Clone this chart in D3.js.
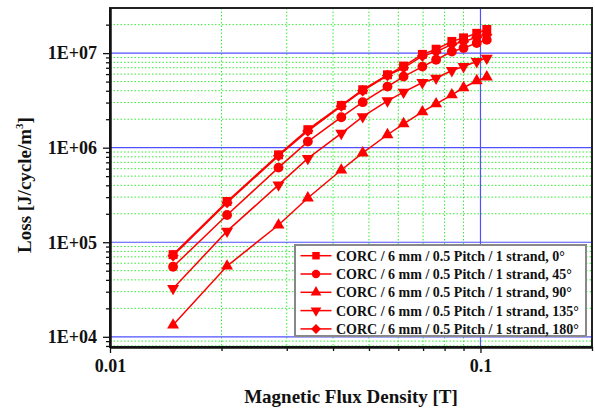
<!DOCTYPE html>
<html>
<head>
<meta charset="utf-8">
<script src="https://cdn.jsdelivr.net/npm/d3@7"></script>
<style>
  body { margin: 0; background: #fff; }
  svg { display: block; font-family: "Liberation Serif", "Times New Roman", serif; font-weight: bold; }
</style>
</head>
<body>
<div id="chart"></div>
<script>
// Data
const fluxDensity = [0.0148, 0.0207, 0.0285, 0.0342, 0.0421, 0.0481, 0.0561, 0.062, 0.0697, 0.0759, 0.0837, 0.09, 0.0977, 0.104];
const loss0   = [7.4e4, 2.7e5, 8.4e5, 1.55e6, 2.8e6, 4.1e6, 5.9e6, 7.3e6, 9.7e6, 1.1e7, 1.33e7, 1.45e7, 1.62e7, 1.78e7];
const loss45  = [5.5e4, 1.94e5, 6.15e5, 1.16e6, 2.1e6, 3.03e6, 4.43e6, 5.65e6, 7.2e6, 8.5e6, 1.04e7, 1.13e7, 1.28e7, 1.38e7];
const loss90  = [1.33e4, 5.6e4, 1.52e5, 2.94e5, 5.8e5, 8.8e5, 1.37e6, 1.79e6, 2.39e6, 2.91e6, 3.62e6, 4.3e6, 5.1e6, 5.6e6];
const loss135 = [3.25e4, 1.31e5, 4.04e5, 7.7e5, 1.42e6, 2.13e6, 3.13e6, 3.87e6, 4.89e6, 5.43e6, 6.55e6, 7.21e6, 8.15e6, 8.85e6];
const loss180 = [7.2e4, 2.62e5, 8.2e5, 1.5e6, 2.75e6, 4.0e6, 5.8e6, 7.0e6, 9.3e6, 1.03e7, 1.24e7, 1.32e7, 1.47e7, 1.56e7];

const seriesLabels = [
  "CORC / 6 mm / 0.5 Pitch / 1 strand, 0\u00b0",
  "CORC / 6 mm / 0.5 Pitch / 1 strand, 45\u00b0",
  "CORC / 6 mm / 0.5 Pitch / 1 strand, 90\u00b0",
  "CORC / 6 mm / 0.5 Pitch / 1 strand, 135\u00b0",
  "CORC / 6 mm / 0.5 Pitch / 1 strand, 180\u00b0"
];
const seriesValues = [loss0, loss45, loss90, loss135, loss180];

const xMajorTicks = [0.01, 0.1];
const xTickLabels = ["0.01", "0.1"];
const yMajorTicks = [1e4, 1e5, 1e6, 1e7];
const yTickLabels = ["1E+04", "1E+05", "1E+06", "1E+07"];

const width = 595, height = 410;
const plotLeft = 110, plotRight = 592, plotTop = 8, plotBottom = 347;
const red = "#ff0000";

const x = d3.scaleLog().domain([0.01, 0.2]).range([plotLeft, plotRight]);
const y = d3.scaleLog().domain([7.8e3, 3e7]).range([plotBottom, plotTop]);

// minor tick positions (2..9 in each decade, inside the visible range)
function minors(lo, hi) {
  const out = [];
  for (let e = -5; e <= 9; e++) {
    for (let m = 2; m <= 9; m++) {
      const v = m * Math.pow(10, e);
      if (v > lo * 1.0001 && v < hi * 0.9999) out.push(v);
    }
  }
  return out;
}
const xMinor = minors(0.01, 0.2);
const yMinor = minors(7.8e3, 3e7);

const svg = d3.select("#chart").append("svg")
  .attr("width", width)
  .attr("height", height);

// minor grid (green dotted)
svg.append("g").selectAll("line")
  .data(xMinor).enter().append("line")
  .attr("x1", d => x(d)).attr("x2", d => x(d))
  .attr("y1", plotTop).attr("y2", plotBottom)
  .attr("stroke", "#33ee33").attr("stroke-width", 1).attr("stroke-dasharray", "1.5,2");
svg.append("g").selectAll("line")
  .data(yMinor).enter().append("line")
  .attr("x1", plotLeft).attr("x2", plotRight)
  .attr("y1", d => y(d)).attr("y2", d => y(d))
  .attr("stroke", "#33ee33").attr("stroke-width", 1).attr("stroke-dasharray", "1.5,2");

// major grid (blue)
svg.append("g").selectAll("line")
  .data(xMajorTicks.filter(d => d > 0.01)).enter().append("line")
  .attr("x1", d => x(d)).attr("x2", d => x(d))
  .attr("y1", plotTop).attr("y2", plotBottom)
  .attr("stroke", "#5050ff").attr("stroke-width", 1.2);
svg.append("g").selectAll("line")
  .data(yMajorTicks).enter().append("line")
  .attr("x1", plotLeft).attr("x2", plotRight)
  .attr("y1", d => y(d)).attr("y2", d => y(d))
  .attr("stroke", "#5050ff").attr("stroke-width", 1.2);

// symbols
const symbols = [
  d3.symbol().type(d3.symbolSquare).size(80),
  d3.symbol().type(d3.symbolCircle).size(76),
  d3.symbol().type(d3.symbolTriangle).size(62),
  d3.symbol().type(d3.symbolTriangle).size(62),
  d3.symbol().type(d3.symbolSquare).size(64)
];
const rotations = [0, 0, 0, 180, 45];

const line = d3.line().x(d => x(d[0])).y(d => y(d[1]));

seriesValues.forEach((vals, i) => {
  const pts = fluxDensity.map((b, j) => [b, vals[j]]);
  const g = svg.append("g");
  g.append("path")
    .attr("d", line(pts))
    .attr("fill", "none")
    .attr("stroke", red)
    .attr("stroke-width", 1.5);
  g.selectAll("path.m")
    .data(pts).enter().append("path")
    .attr("class", "m")
    .attr("d", symbols[i])
    .attr("transform", d => `translate(${x(d[0])},${y(d[1])}) rotate(${rotations[i]})`)
    .attr("fill", red);
});

// frame
svg.append("rect")
  .attr("x", plotLeft).attr("y", plotTop)
  .attr("width", plotRight - plotLeft).attr("height", plotBottom - plotTop)
  .attr("fill", "none").attr("stroke", "#222").attr("stroke-width", 2);

// axes
const yAxisMajor = d3.axisLeft(y).tickValues(yMajorTicks).tickSize(7).tickPadding(6)
  .tickFormat((d, i) => yTickLabels[i]).tickSizeOuter(0);
const yAxisMinor = d3.axisLeft(y).tickValues(yMinor).tickSize(4).tickFormat("").tickSizeOuter(0);
const xAxisMajor = d3.axisBottom(x).tickValues(xMajorTicks).tickSize(6).tickPadding(6)
  .tickFormat((d, i) => xTickLabels[i]).tickSizeOuter(0);
const xAxisMinor = d3.axisBottom(x).tickValues(xMinor.concat([0.2])).tickSize(4).tickFormat("").tickSizeOuter(0);

[yAxisMinor, yAxisMajor].forEach(ax => {
  const g = svg.append("g").attr("transform", `translate(${plotLeft},0)`).call(ax);
  g.select(".domain").attr("stroke", "#111").attr("stroke-width", 2);
  g.selectAll(".tick line").attr("stroke", "#111").attr("stroke-width", 1.3);
  g.selectAll("text").attr("font-size", 18).attr("font-family", "Liberation Serif")
    .attr("font-weight", "bold").attr("fill", "#111");
});
[xAxisMinor, xAxisMajor].forEach(ax => {
  const g = svg.append("g").attr("transform", `translate(0,${plotBottom})`).call(ax);
  g.select(".domain").attr("stroke", "#111").attr("stroke-width", 2);
  g.selectAll(".tick line").attr("stroke", "#111").attr("stroke-width", 1.3);
  g.selectAll("text").attr("font-size", 18).attr("font-family", "Liberation Serif")
    .attr("font-weight", "bold").attr("fill", "#111");
});

// axis titles
svg.append("text")
  .attr("x", 351)
  .attr("y", 403)
  .attr("text-anchor", "middle")
  .attr("font-size", 19)
  .attr("fill", "#111")
  .text("Magnetic Flux Density [T]");

const yTitle = svg.append("text")
  .attr("transform", "translate(31,185) rotate(-90)")
  .attr("text-anchor", "middle")
  .attr("font-size", 19)
  .attr("fill", "#111");
yTitle.append("tspan").text("Loss [J/cycle/m");
yTitle.append("tspan").attr("font-size", 11).attr("dy", -8).text("3");
yTitle.append("tspan").attr("dy", 8).text("]");

// legend
const legend = svg.append("g");
legend.append("rect")
  .attr("x", 295).attr("y", 245)
  .attr("width", 291).attr("height", 91)
  .attr("fill", "#fff").attr("stroke", "#888").attr("stroke-width", 2);

const legendSymbols = [
  d3.symbol().type(d3.symbolSquare).size(56),
  d3.symbol().type(d3.symbolCircle).size(56),
  d3.symbol().type(d3.symbolTriangle).size(50),
  d3.symbol().type(d3.symbolTriangle).size(50),
  d3.symbol().type(d3.symbolSquare).size(50)
];

const rows = legend.selectAll("g.row")
  .data(seriesLabels).enter().append("g")
  .attr("transform", (d, i) => `translate(0,${255.7 + i * 18.3})`);
rows.append("line")
  .attr("x1", 300.5).attr("x2", 331.5)
  .attr("y1", 0).attr("y2", 0)
  .attr("stroke", red).attr("stroke-width", 1.5);
rows.append("path")
  .attr("d", (d, i) => legendSymbols[i]())
  .attr("transform", (d, i) => `translate(316,0) rotate(${rotations[i]})`)
  .attr("fill", red);
rows.append("text")
  .attr("x", 336)
  .attr("y", 0)
  .attr("dy", "0.35em")
  .attr("font-size", 14)
  .attr("fill", "#111")
  .text(d => d);
</script>
</body>
</html>
